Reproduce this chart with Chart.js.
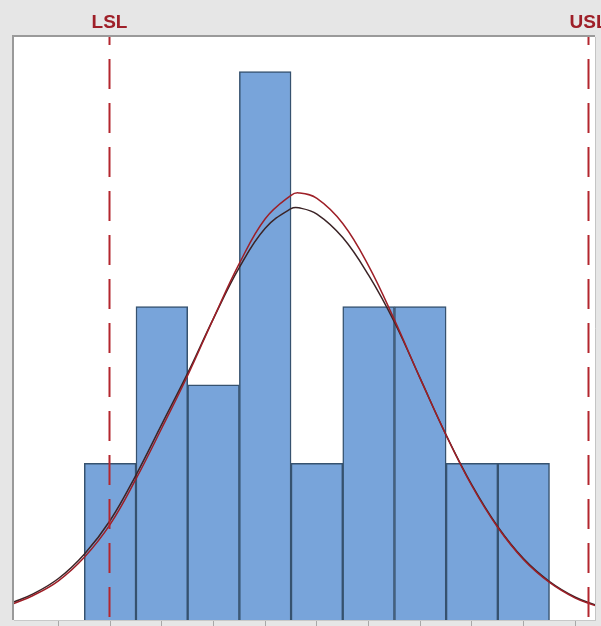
<!DOCTYPE html>
<html>
<head>
<meta charset="utf-8">
<script src="https://cdn.jsdelivr.net/npm/chart.js@4.4.0/dist/chart.umd.min.js"></script>
<style>
  html, body { margin: 0; padding: 0; background: #e6e6e6; }
  canvas { display: block; }
</style>
</head>
<body>
<canvas id="capChart" width="601" height="626"></canvas>
<script>
// histogram bins (bin centres, in bin-width units) and counts
const binCenters = [0.5, 1.5, 2.5, 3.5, 4.5, 5.5, 6.5, 7.5, 8.5];
const binCounts = [2, 4, 3, 7, 2, 4, 4, 2, 2];

// fitted curves
const curveX = [-1.4, -1, -0.5, 0, 0.5, 1, 1.5, 2, 2.5, 3, 3.5, 4, 4.15, 4.5, 5, 5.5, 6, 6.5, 7, 7.5, 8, 8.5, 9, 9.5, 9.9];
const overallY = [0.20, 0.31, 0.50, 0.80, 1.22, 1.80, 2.45, 3.12, 3.85, 4.55, 5.12, 5.42, 5.45, 5.38, 5.06, 4.52, 3.83, 3.08, 2.36, 1.71, 1.18, 0.77, 0.48, 0.28, 0.18];
const withinY = [0.22, 0.33, 0.53, 0.84, 1.27, 1.85, 2.50, 3.15, 3.85, 4.50, 5.00, 5.25, 5.26, 5.18, 4.88, 4.40, 3.80, 3.08, 2.36, 1.72, 1.19, 0.78, 0.49, 0.29, 0.19];

// spec limits and axis ticks
const specLimits = [{ label: "LSL", value: 0.48 }, { label: "USL", value: 9.75 }];
const tickValues = [-0.5, 0.5, 1.5, 2.5, 3.5, 4.5, 5.5, 6.5, 7.5, 8.5, 9.5];
const xRange = [-1.36, 9.88];
const yMax = 7.44;

const specPlugin = {
  id: "specLimits",
  beforeDatasetsDraw(chart) {
    const { ctx, chartArea: a } = chart;
    ctx.save();
    ctx.fillStyle = "#ffffff";
    ctx.fillRect(a.left, a.top, a.right - a.left, a.bottom - a.top);
    ctx.restore();
  },
  afterDraw(chart) {
    const { ctx, chartArea: a } = chart;
    const x = chart.scales.x;
    ctx.save();
    // frame
    ctx.strokeStyle = "#9a9a9a";
    ctx.lineWidth = 2;
    ctx.beginPath();
    ctx.moveTo(a.left - 1, a.bottom);
    ctx.lineTo(a.left - 1, a.top - 1);
    ctx.lineTo(a.right, a.top - 1);
    ctx.stroke();
    ctx.strokeStyle = "#c4c4c4";
    ctx.lineWidth = 1;
    ctx.beginPath();
    ctx.moveTo(a.right + 0.5, a.top);
    ctx.lineTo(a.right + 0.5, a.bottom);
    ctx.stroke();
    // limit lines
    specLimits.forEach((s) => {
      const px = Math.round(x.getPixelForValue(s.value)) + 0.5;
      ctx.strokeStyle = "#b3262e";
      ctx.lineWidth = 2;
      ctx.setLineDash([30, 14]);
      ctx.lineDashOffset = 22;
      ctx.beginPath();
      ctx.moveTo(px, a.top);
      ctx.lineTo(px, a.bottom);
      ctx.stroke();
      ctx.setLineDash([]);
      ctx.fillStyle = "#9e1f28";
      ctx.font = "bold 19px 'Liberation Sans', Arial, sans-serif";
      ctx.textAlign = "center";
      ctx.textBaseline = "alphabetic";
      ctx.fillText(s.label, px, 28);
    });
    ctx.restore();
  },
};

new Chart(document.getElementById("capChart"), {
  data: {
    datasets: [
      {
        type: "line",
        data: curveX.map((v, i) => ({ x: v, y: withinY[i] })),
        borderColor: "#3b2326",
        borderWidth: 1.5,
        pointRadius: 0,
        tension: 0.4,
        order: 1,
      },
      {
        type: "line",
        data: curveX.map((v, i) => ({ x: v, y: overallY[i] })),
        borderColor: "#9e1f27",
        borderWidth: 1.5,
        pointRadius: 0,
        tension: 0.4,
        order: 0,
      },
      {
        type: "bar",
        data: binCenters.map((c, i) => ({ x: c, y: binCounts[i] })),
        backgroundColor: "#78a4da",
        borderColor: "#36526f",
        borderWidth: 1.5,
        barPercentage: 1,
        categoryPercentage: 1,
        order: 2,
      },
    ],
  },
  options: {
    responsive: false,
    animation: false,
    layout: { padding: { left: 14, top: 37, right: 6, bottom: 0 } },
    plugins: { legend: { display: false }, tooltip: { enabled: false } },
    scales: {
      x: {
        type: "linear",
        min: xRange[0],
        max: xRange[1],
        offset: false,
        afterBuildTicks: (scale) => {
          scale.ticks = tickValues.map((v) => ({ value: v }));
        },
        ticks: { display: false },
        grid: { offset: false, drawOnChartArea: false, tickLength: 6, color: "#a8a8a8" },
        border: { display: true, color: "#c8c8c8" },
      },
      y: { display: false, min: 0, max: yMax },
    },
  },
  plugins: [specPlugin],
});
</script>
</body>
</html>
